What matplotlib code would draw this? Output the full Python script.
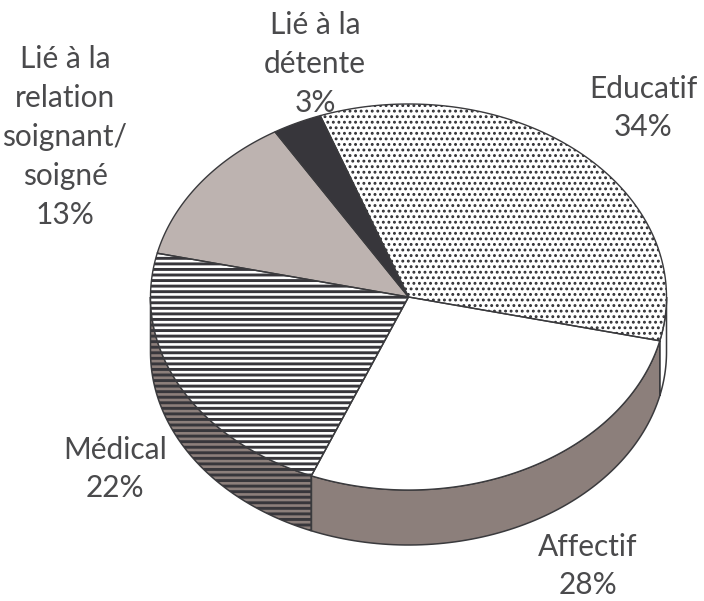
import numpy as np
import matplotlib
matplotlib.use("Agg")
import matplotlib.pyplot as plt
from matplotlib.patches import Polygon

categories = ["Educatif", "Affectif", "Médical", "Lié à la\nrelation\nsoignant/\nsoigné", "Lié à la\ndétente"]
labels_pct = [34, 28, 22, 13, 3]
values = [34.2, 27.5, 22.5, 12.7, 3.1]

faces = ["white", "white", "white", "#bdb3b0", "#37363b"]
hatches = ["...", None, "---", None, None]
hatch_lw = [1.3, 1.0, 2.1, 1.0, 1.0]
hatch_cols = ["#2f2f33", None, "#37363b", None, None]
sides = ["white", "#8c7f7b", "#8c7f7b", "#bdb3b0", "#37363b"]
label_pos = [(643, 108), (588, 566), (115, 469), (65, 137), (315, 64)]

CX, CY, A, B, DEPTH = 408.5, 297, 258, 193, 55
START = 110.0
INK = "#3a3a3d"

plt.rcParams["font.family"] = ["Lato", "DejaVu Sans"]

fig = plt.figure(figsize=(7.04, 6.01), dpi=100)
ax = fig.add_axes([0, 0, 1, 1])
ax.set_xlim(0, 704)
ax.set_ylim(601, 0)
ax.axis("off")


def rim(t, dy=0.0):
    r = np.radians(t)
    return np.column_stack([CX + A * np.cos(r), CY - B * np.sin(r) + dy])


total = sum(values)
angle = START
spans = []
for v in values:
    spans.append((angle, angle - 360.0 * v / total))
    angle -= 360.0 * v / total

# side wall: only the front half (parametric angles -180..0) is visible
for (a0, a1), side, h, hc, hl in zip(spans, sides, hatches, hatch_cols, hatch_lw):
    segs = []
    for shift in (0, -360):
        hi, lo = min(a0 + shift, 0), max(a1 + shift, -180)
        if hi > lo:
            segs.append((hi, lo))
    for hi, lo in segs:
        t = np.linspace(hi, lo, 80)
        pts = np.vstack([rim(t), rim(t[::-1], DEPTH)])
        ax.add_patch(Polygon(pts, closed=True, fc=side, ec="none", zorder=2))
        if h == "---":
            plt.rcParams["hatch.linewidth"] = hl
            ax.add_patch(Polygon(pts, closed=True, fc="none", ec=hc, hatch=h, lw=0, zorder=2.1))
        ax.add_patch(Polygon(pts, closed=True, fc="none", ec=INK, lw=1.1, zorder=2.2))

# top face
for (a0, a1), face, h, hc, hl in zip(spans, faces, hatches, hatch_cols, hatch_lw):
    t = np.linspace(a0, a1, 160)
    pts = np.vstack([[CX, CY], rim(t)])
    ax.add_patch(Polygon(pts, closed=True, fc=face, ec="none", zorder=3))
    if h:
        plt.rcParams["hatch.linewidth"] = hl
        ax.add_patch(Polygon(pts, closed=True, fc="none", ec=hc, hatch=h, lw=0, zorder=3.1))
    ax.add_patch(Polygon(pts, closed=True, fc="none", ec=INK, lw=1.0, zorder=3.2))

for cat, v, (x, y) in zip(categories, labels_pct, label_pos):
    ax.text(x, y, f"{cat}\n{v}%", ha="center", va="center", fontsize=21.5,
            color="#4a4a4c", linespacing=1.47, zorder=5)

fig.savefig("out.png", dpi=100)
